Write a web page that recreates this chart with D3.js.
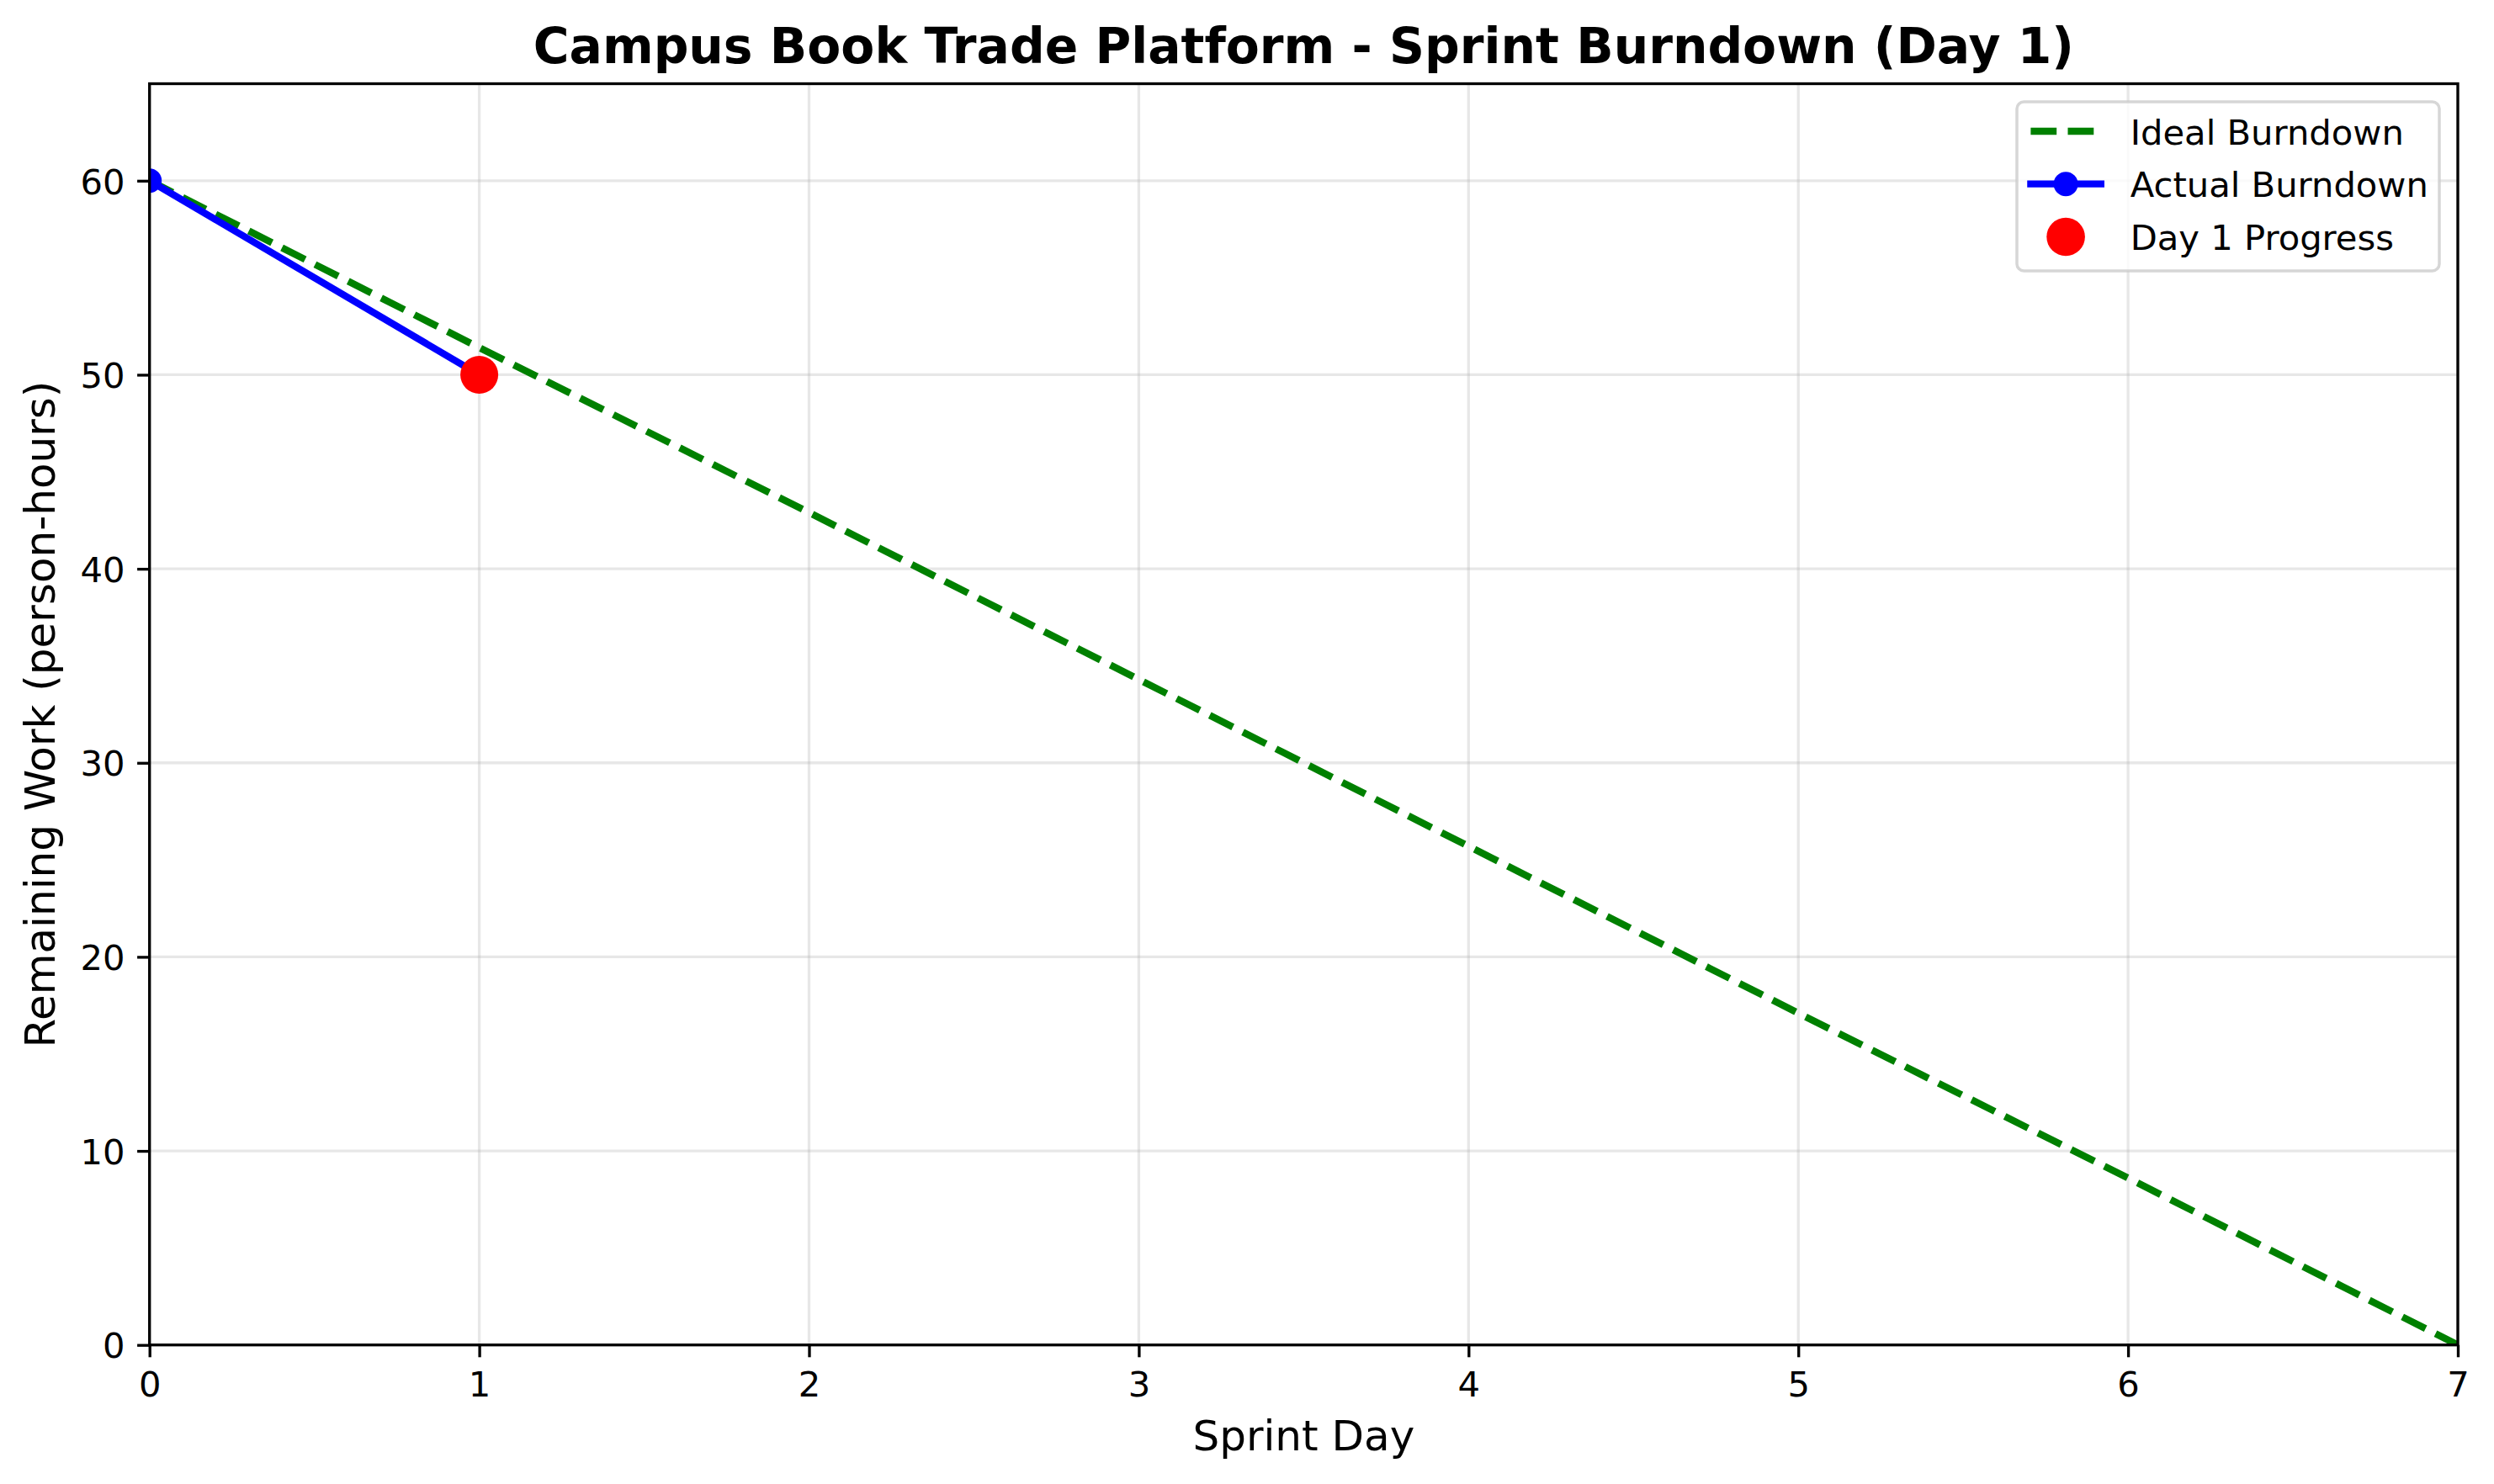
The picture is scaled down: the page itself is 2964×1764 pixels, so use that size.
<!DOCTYPE html>
<html>
<head>
<meta charset="utf-8">
<script src="https://cdn.jsdelivr.net/npm/d3@7"></script>
<style>
  html, body { margin: 0; padding: 0; background: #fff; }
  svg { display: block; font-family: "DejaVu Sans", sans-serif; }
</style>
</head>
<body>
<svg id="chart" width="2964" height="1764"></svg>
<script>
// ---- Data ----
const idealDays = [0, 1, 2, 3, 4, 5, 6, 7];
const idealWork = [60, 51.4, 42.9, 34.3, 25.7, 17.1, 8.6, 0];
const actualDays = [0, 1];
const actualWork = [60, 50];
const progressDay = [1];
const progressWork = [50];
const xTicks = [0, 1, 2, 3, 4, 5, 6, 7];
const yTicks = [0, 10, 20, 30, 40, 50, 60];
const legendLabels = ["Ideal Burndown", "Actual Burndown", "Day 1 Progress"];
const titleText = "Campus Book Trade Platform - Sprint Burndown (Day 1)";
const xLabelText = "Sprint Day";
const yLabelText = "Remaining Work (person-hours)";

(function () {
// ---- Layout ----
const pL = 177.7, pR = 2921, pT = 99.5, pB = 1598.7;
const svg = d3.select("#chart");
svg.append("rect").attr("width", 2964).attr("height", 1764).attr("fill", "#fff");

const x = d3.scaleLinear().domain([0, 7]).range([pL, pR]);
const y = d3.scaleLinear().domain([0, 65]).range([pB, pT]);

// clip
svg.append("defs").append("clipPath").attr("id", "plotclip")
  .append("rect").attr("x", pL).attr("y", pT)
  .attr("width", pR - pL).attr("height", pB - pT);

// grid
const grid = svg.append("g");
grid.selectAll("line.gx").data(xTicks).join("line")
  .attr("x1", d => x(d)).attr("x2", d => x(d))
  .attr("y1", pT).attr("y2", pB)
  .attr("stroke", "#b0b0b0").attr("stroke-opacity", 0.3).attr("stroke-width", 3.3);
grid.selectAll("line.gy").data(yTicks).join("line")
  .attr("x1", pL).attr("x2", pR)
  .attr("y1", d => y(d)).attr("y2", d => y(d))
  .attr("stroke", "#b0b0b0").attr("stroke-opacity", 0.3).attr("stroke-width", 3.3);

const plot = svg.append("g").attr("clip-path", "url(#plotclip)");

// ideal line
const idealData = idealDays.map((d, i) => [d, idealWork[i]]);
plot.append("path")
  .attr("d", d3.line().x(d => x(d[0])).y(d => y(d[1]))(idealData))
  .attr("fill", "none").attr("stroke", "#008000").attr("stroke-width", 8.33)
  .attr("stroke-dasharray", "30.8,13.3");

// actual line
const actualData = actualDays.map((d, i) => [d, actualWork[i]]);
plot.append("path")
  .attr("d", d3.line().x(d => x(d[0])).y(d => y(d[1]))(actualData))
  .attr("fill", "none").attr("stroke", "#0000ff").attr("stroke-width", 8.33)
  .attr("stroke-linecap", "square").attr("stroke-linejoin", "round");
plot.selectAll("circle.am").data(actualData).join("circle")
  .attr("cx", d => x(d[0])).attr("cy", d => y(d[1])).attr("r", 14.5)
  .attr("fill", "#0000ff");

// progress marker
const progData = progressDay.map((d, i) => [d, progressWork[i]]);
plot.selectAll("circle.pm").data(progData).join("circle")
  .attr("cx", d => x(d[0])).attr("cy", d => y(d[1])).attr("r", 22.5)
  .attr("fill", "#ff0000");

// axes
const xAxis = d3.axisBottom(x).tickValues(xTicks).tickSize(14.6).tickPadding(14.6).tickFormat(d3.format("d"));
const yAxis = d3.axisLeft(y).tickValues(yTicks).tickSize(14.6).tickPadding(14.6).tickFormat(d3.format("d"));

const gx = svg.append("g").attr("transform", `translate(0,${pB})`).call(xAxis);
const gy = svg.append("g").attr("transform", `translate(${pL},0)`).call(yAxis);
[gx, gy].forEach(g => {
  g.select(".domain").remove();
  g.selectAll(".tick line").attr("stroke", "#000").attr("stroke-width", 3.33);
  g.selectAll(".tick text").attr("fill", "#000").attr("font-size", 41.7)
    .attr("font-family", "DejaVu Sans");
});
gx.selectAll(".tick text").attr("dy", null).attr("y", 61.5);
gy.selectAll(".tick text").attr("dy", null).attr("x", -29.2).attr("y", 15.2);

// spines
svg.append("rect").attr("x", pL).attr("y", pT)
  .attr("width", pR - pL).attr("height", pB - pT)
  .attr("fill", "none").attr("stroke", "#000").attr("stroke-width", 3.33)
  .attr("stroke-linejoin", "miter");

// labels
svg.append("text").attr("x", (pL + pR) / 2).attr("y", 74.5)
  .attr("text-anchor", "middle").attr("font-size", 58.3).attr("font-weight", "bold")
  .text(titleText);
svg.append("text").attr("x", (pL + pR) / 2).attr("y", 1724)
  .attr("text-anchor", "middle").attr("font-size", 50).text(xLabelText);
svg.append("text")
  .attr("transform", `translate(65,${(pT + pB) / 2}) rotate(-90)`)
  .attr("text-anchor", "middle").attr("font-size", 50).text(yLabelText);

// legend
const lg = svg.append("g");
lg.append("rect").attr("x", 2397).attr("y", 121).attr("width", 502).attr("height", 201)
  .attr("rx", 8.3).attr("ry", 8.3)
  .attr("fill", "#fff").attr("fill-opacity", 0.8)
  .attr("stroke", "#cccccc").attr("stroke-opacity", 0.8).attr("stroke-width", 3.5);
const rowY = [156, 218.7, 281.5];
const hx0 = 2413.4, hx1 = 2496.8, hcx = (hx0 + hx1) / 2;
lg.append("line").attr("x1", hx0).attr("x2", hx1).attr("y1", rowY[0]).attr("y2", rowY[0])
  .attr("stroke", "#008000").attr("stroke-width", 8.33).attr("stroke-dasharray", "30.8,13.3");
lg.append("line").attr("x1", hx0).attr("x2", hx1).attr("y1", rowY[1]).attr("y2", rowY[1])
  .attr("stroke", "#0000ff").attr("stroke-width", 8.33).attr("stroke-linecap", "square");
lg.append("circle").attr("cx", hcx).attr("cy", rowY[1]).attr("r", 14.5).attr("fill", "#0000ff");
lg.append("circle").attr("cx", hcx).attr("cy", rowY[2]).attr("r", 22.8).attr("fill", "#ff0000");
lg.selectAll("text.lt").data(legendLabels).join("text")
  .attr("x", 2531.7).attr("y", (d, i) => rowY[i] + 15.5)
  .attr("font-size", 41.7).text(d => d);
})();
</script>
</body>
</html>
